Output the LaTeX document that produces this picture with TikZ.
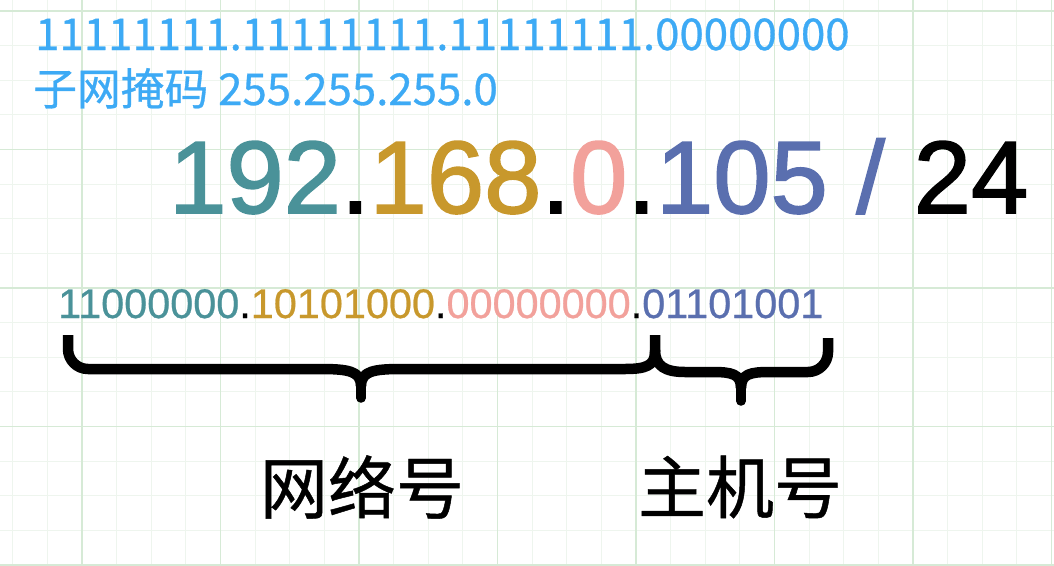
\documentclass[tikz,border=0pt]{standalone}
\usepackage{fontspec}
\setmainfont{Liberation Sans}
\newfontfamily\cjk{Noto Sans CJK SC}
\newfontfamily\cjkmid[FakeBold=0.7]{Noto Sans CJK SC}
\newfontfamily\ipfont[FakeBold=1.6]{Liberation Sans}
\newfontfamily\binfont[FakeBold=0.6]{Liberation Sans}
\definecolor{maskblue}{HTML}{3DAAF5}
\definecolor{ipteal}{HTML}{4A9299}
\definecolor{ipgold}{HTML}{C8982C}
\definecolor{ippink}{HTML}{F2A19B}
\definecolor{ipblue}{HTML}{5A6FAF}
\definecolor{gridminor}{HTML}{EEF5EE}
\definecolor{gridmajor}{HTML}{D6EAD6}
\tikzset{
  minorline/.style={draw=gridminor, line width=1pt},
  majorline/.style={draw=gridmajor, line width=1.6pt},
  masktext/.style={anchor=base west, inner sep=0pt, text=maskblue, font=\cjkmid\fontsize{43.8}{50}\selectfont},
  bigip/.style={anchor=base west, inner sep=0pt, font=\ipfont\fontsize{103}{110}\selectfont},
  binip/.style={anchor=base west, inner sep=0pt, font=\binfont\fontsize{41.4}{48}\selectfont},
  label/.style={anchor=center, inner sep=0pt, font=\cjkmid\fontsize{68}{80}\selectfont},
  bracepath/.style={draw=black, line width=10.5pt, line join=round, line cap=butt},
  bracetip/.style={draw=black, line width=9.5pt, line cap=round},
}
\begin{document}
\begin{tikzpicture}[x=1pt,y=-1pt]
\useasboundingbox (0,0) rectangle (1054,565);
\fill[white] (0,0) rectangle (1054,565);
% grid
\foreach \i in {0,...,30} {
  \draw[minorline] ({12.75+34.625*\i},0) -- ++(0,565);
}
\foreach \i in {0,...,16} {
  \draw[minorline] (0,{11+34.625*\i}) -- ++(1054,0);
}
\foreach \i in {0,...,7} {
  \draw[majorline] ({82+138.5*\i},0) -- ++(0,565);
}
\foreach \i in {0,...,4} {
  \draw[majorline] (0,{11+138.5*\i}) -- ++(1054,0);
}
% texts
\node[masktext] (maskbin) at (35,50) {11111111.11111111.11111111.00000000};
\node[masktext] (maskdec) at (33,105) {子网掩码 255.255.255.0};
\node[bigip] (ip) at (169,213) {{\color{ipteal}192}.{\color{ipgold}168}.{\color{ippink}0}.{\color{ipblue}105 /} 24};
\node[binip] (bin) at (58,318) {{\color{ipteal}11000000}.{\color{ipgold}10101000}.{\color{ippink}00000000}.{\color{ipblue}01101001}};
\node[label] (net) at (362,487) {网络号};
\node[label] (host) at (740,487) {主机号};
% brace coordinates
\coordinate (b1l) at (68,335);
\coordinate (b1m) at (361,398);
\coordinate (bj) at (655,335);
\coordinate (b2m) at (741,401);
\coordinate (b2r) at (828,338);
% network brace
\draw[bracepath] (b1l) -- (68,349) to[out=-90,in=180] (88,369) -- (320,369)
  .. controls (348,369) and (361,371) .. (361,386);
\draw[bracepath] (bj) -- (655,352) .. controls (655,366) and (645,369) .. (625,369) -- (402,369)
  .. controls (374,369) and (361,371) .. (361,386);
\draw[bracetip] (361,384) -- (b1m);
% host brace
\draw[bracepath] (655,350) .. controls (655,366) and (665,372) .. (685,372) -- (712,372)
  .. controls (732,372) and (741,374) .. (741,388);
\draw[bracepath] (b2r) -- (828,352) to[out=-90,in=0] (808,372) -- (770,372)
  .. controls (750,372) and (741,374) .. (741,388);
\draw[bracetip] (741,386) -- (b2m);
\end{tikzpicture}
\end{document}
